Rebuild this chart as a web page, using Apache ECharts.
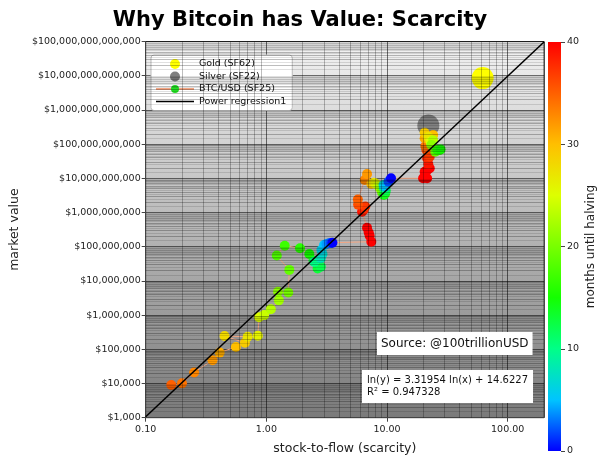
<!DOCTYPE html>
<html>
<head>
<meta charset="utf-8">
<title>Why Bitcoin has Value: Scarcity</title>
<script src="https://cdn.jsdelivr.net/npm/echarts@6/dist/echarts.min.js"></script>
<style>
  html, body { margin: 0; padding: 0; background: #fff; }
  #chart { width: 600px; height: 464px; }
</style>
</head>
<body>
<div id="chart"></div>
<script>
// BTC/USD monthly points, in time order: stock-to-flow, market value (USD), months until halving
var btcS2F = [0.163, 0.2, 0.252, 0.358, 0.41, 0.56, 0.665, 0.45, 0.70, 0.85,
  0.87, 0.96, 1.09, 1.27, 1.25, 1.52, 1.55, 1.22, 1.42, 1.90,
  2.27, 2.46, 2.66, 2.83, 2.50, 2.83, 2.92, 2.86, 3.01, 3.15,
  3.31, 3.43, 3.53,
  7.41, 7.18, 7.05, 6.83, 6.21, 6.42, 6.61, 5.76, 5.73, 6.54,
  6.83, 7.41, 7.75, 7.99, 8.52, 8.73, 9.07, 9.32, 9.65, 9.47,
  9.77, 9.41, 9.36, 9.65, 10.3, 10.8,
  19.9, 21.5, 20.5, 20.5, 22.6, 21.6, 22.0, 21.5, 22.6, 21.2,
  20.8, 20.5, 24.1, 20.5, 22.0, 22.9, 24.1, 23.3, 25.1, 27.3,
  26.1, 27.8];
var btcValue = [9000, 10100, 21000, 48000, 80000, 117000, 156000, 245000, 233000, 250000,
  863000, 1.0e6, 1.48e6, 2.7e6, 4.8e6, 4.6e6, 2.1e7, 5.5e7, 1.07e8, 9.0e7,
  6.1e7, 3.9e7, 2.3e7, 2.6e7, 3.6e7, 4.6e7, 6.1e7, 8.0e7, 1.12e8, 1.2e8,
  1.26e8, 1.28e8, 1.31e8,
  1.4e8, 2.1e8, 2.6e8, 3.6e8, 1.05e9, 1.2e9, 1.5e9, 1.7e9, 2.4e9, 8.9e9,
  1.34e10, 6.8e9, 7.4e9, 7.1e9, 6.0e9, 5.2e9, 4.0e9, 3.3e9, 3.6e9, 3.3e9,
  4.3e9, 5.2e9, 6.4e9, 5.7e9, 8.0e9, 1.0e10,
  1.0e10, 1.0e10, 1.1e10, 1.56e10, 1.96e10, 1.75e10, 2.6e10, 3.85e10, 4.3e10, 6.7e10,
  8.8e10, 1.48e11, 1.85e11, 2.15e11, 1.6e11, 1.17e11, 1.3e11, 9.4e10, 6.0e10, 6.7e10,
  6.7e10, 7.0e10];
var btcMonths = [35, 34, 33, 32, 31, 30, 29, 28, 27, 26,
  25, 24, 23, 22, 21, 20, 19, 18, 17, 16,
  15, 14, 13, 12, 10, 8, 7, 6, 5, 4,
  3, 2, 0,
  40, 40, 40, 40, 39, 38, 37, 36, 35, 33,
  32, 30, 28, 26, 24, 22, 20, 18, 16, 14,
  12, 10, 7, 5, 2, 0,
  40, 40, 40, 40, 40, 40, 39, 38, 37, 36,
  34, 31, 30, 29, 27, 25, 23, 21, 19, 17,
  16, 15];

var goldPoint = [62, 8.5e12];
var silverPoint = [22, 3.5e11];

// power regression ln(y) = 3.31954 ln(x) + 14.6227, ends read at the plot edges
var regX = [0.1, 200];
var regY = [1070, 9.7e13];

var monthRange = [0, 40];
var jetColors = ['#0000ff', '#00c4ff', '#00ff87', '#14ff00', '#78ff00',
  '#ddff00', '#ffbf00', '#ff6000', '#ff0000'];

var font = 'DejaVu Sans';

var btcLine = btcS2F.map(function(x, i) { return [x, btcValue[i]]; });
var btcPts = btcS2F.map(function(x, i) { return [x, btcValue[i], btcMonths[i]]; });
var regLine = regX.map(function(x, i) { return [x, regY[i]]; });

// minor log grid lines (2..9 per decade), plus fainter half steps on y
var gridLines = [];
for (var e = -1; e < 3; e++) {
  for (var m = 2; m < 10; m++) {
    var v = m * Math.pow(10, e);
    if (v < 200) gridLines.push({ xAxis: v });
  }
}
for (var e2 = 3; e2 < 14; e2++) {
  for (var k = 1.5; k < 10; k += 0.5) {
    gridLines.push({
      yAxis: k * Math.pow(10, e2),
      lineStyle: { color: k % 1 === 0 ? 'rgba(0,0,0,0.26)' : 'rgba(0,0,0,0.12)' }
    });
  }
}

var barGradient = new echarts.graphic.LinearGradient(0, 1, 0, 0,
  jetColors.map(function(c, i) { return { offset: i / (jetColors.length - 1), color: c }; }));

var chart = echarts.init(document.getElementById('chart'));

var option = {
  animation: false,
  textStyle: { fontFamily: font },
  title: [{
    text: 'Why Bitcoin has Value: Scarcity',
    left: 'center',
    top: 5,
    textStyle: { fontFamily: font, fontWeight: 'bold', fontSize: 21, color: '#000' }
  }, {
    text: 'Source: @100trillionUSD',
    left: 377,
    top: 332,
    padding: [6, 4, 5, 4],
    backgroundColor: '#fff',
    textStyle: { fontFamily: font, fontWeight: 'normal', fontSize: 12, color: '#111' }
  }, {
    text: 'ln(y) = 3.31954 ln(x) + 14.6227\nR² = 0.947328',
    left: 362,
    top: 370,
    padding: [4, 5, 4, 5],
    backgroundColor: '#fff',
    textStyle: { fontFamily: font, fontWeight: 'normal', fontSize: 10, lineHeight: 12.5, color: '#111' }
  }],
  legend: {
    orient: 'vertical',
    left: 151,
    top: 55,
    padding: [4, 6, 4, 4],
    itemGap: 2.5,
    itemWidth: 38,
    itemHeight: 10,
    backgroundColor: '#fff',
    borderColor: '#bbb',
    borderWidth: 1,
    borderRadius: 3,
    textStyle: { fontFamily: font, fontSize: 9.5, color: '#111' },
    data: [
      { name: 'Gold (SF62)', icon: 'circle' },
      { name: 'Silver (SF22)', icon: 'circle' },
      { name: 'BTC/USD (SF25)' },
      { name: 'Power regression1', icon: 'path://M0,0L38,0L38,1.6L0,1.6Z' }
    ]
  },
  visualMap: {
    type: 'continuous',
    show: false,
    min: monthRange[0],
    max: monthRange[1],
    dimension: 2,
    seriesIndex: 4,
    inRange: { color: jetColors }
  },
  grid: [{
    left: 141.5,
    top: 41.5,
    width: 402.5,
    height: 376.2,
    show: true,
    borderColor: '#444',
    borderWidth: 1,
    backgroundColor: new echarts.graphic.LinearGradient(0, 0, 0, 1, [
      { offset: 0, color: '#f3f3f3' },
      { offset: 1, color: '#7a7a7a' }
    ])
  }, {
    left: 548,
    top: 42,
    width: 13,
    height: 409
  }],
  xAxis: [{
    type: 'log',
    logBase: 10,
    gridIndex: 0,
    min: 0.1,
    max: 200,
    interval: 1,
    name: 'stock-to-flow (scarcity)',
    nameLocation: 'middle',
    nameGap: 25,
    nameTextStyle: { fontFamily: font, fontSize: 12.5, color: '#222' },
    axisLine: { show: true, lineStyle: { color: '#444' } },
    axisTick: { show: true, length: 4, lineStyle: { color: '#444' } },
    axisLabel: {
      fontSize: 9.5, color: '#222', margin: 7, showMaxLabel: false,
      formatter: function(v) { return v.toFixed(2); }
    },
    splitLine: { show: true, lineStyle: { color: 'rgba(0,0,0,0.55)' } }
  }, {
    type: 'category',
    gridIndex: 1,
    data: ['months'],
    show: false
  }],
  yAxis: [{
    type: 'log',
    logBase: 10,
    gridIndex: 0,
    min: 1000,
    max: 1e14,
    interval: 1,
    name: 'market value',
    nameLocation: 'middle',
    nameRotate: 90,
    nameGap: 122,
    nameTextStyle: { fontFamily: font, fontSize: 12.5, color: '#222' },
    axisLine: { show: true, lineStyle: { color: '#444' } },
    axisTick: { show: true, length: 4, lineStyle: { color: '#444' } },
    axisLabel: {
      fontSize: 9.5, color: '#222', margin: 5,
      formatter: function(v) { return '$' + Math.round(v).toLocaleString('en-US'); }
    },
    splitLine: { show: true, lineStyle: { color: 'rgba(0,0,0,0.55)' } }
  }, {
    type: 'value',
    gridIndex: 1,
    position: 'right',
    min: monthRange[0],
    max: monthRange[1],
    interval: 10,
    name: 'months until halving',
    nameLocation: 'middle',
    nameRotate: 90,
    nameGap: 24,
    nameTextStyle: { fontFamily: font, fontSize: 12, color: '#222' },
    axisLine: { show: false },
    axisTick: { show: true, length: 4, lineStyle: { color: '#444' } },
    axisLabel: { fontSize: 9.5, color: '#222', margin: 6 },
    splitLine: { show: false }
  }],
  series: [{
    name: 'grid',
    type: 'scatter',
    data: [],
    silent: true,
    z: 1,
    markLine: {
      silent: true,
      symbol: ['none', 'none'],
      label: { show: false },
      lineStyle: { color: 'rgba(0,0,0,0.26)', width: 1, type: 'solid' },
      emphasis: { disabled: true },
      data: gridLines
    }
  }, {
    name: 'Gold (SF62)',
    type: 'scatter',
    data: [goldPoint],
    symbolSize: 22,
    itemStyle: { color: '#ffff00', opacity: 1 },
    z: 3
  }, {
    name: 'Silver (SF22)',
    type: 'scatter',
    data: [silverPoint],
    symbolSize: 22,
    itemStyle: { color: '#808080', opacity: 1 },
    z: 3
  }, {
    name: 'BTC/USD (SF25)',
    type: 'line',
    data: btcLine,
    symbol: 'circle',
    symbolSize: 3,
    showSymbol: true,
    itemStyle: { color: '#22dd22' },
    lineStyle: { color: '#f4a582', width: 1 },
    z: 3
  }, {
    name: 'btc months',
    type: 'scatter',
    data: btcPts,
    symbolSize: 10,
    itemStyle: { opacity: 1 },
    z: 4
  }, {
    name: 'Power regression1',
    type: 'line',
    data: regLine,
    symbol: 'none',
    lineStyle: { color: '#000', width: 1.5 },
    itemStyle: { color: '#000' },
    z: 6
  }, {
    name: 'colorbar',
    type: 'bar',
    xAxisIndex: 1,
    yAxisIndex: 1,
    data: [monthRange[1]],
    barWidth: '100%',
    silent: true,
    itemStyle: { color: barGradient }
  }]
};

chart.setOption(option);
</script>
</body>
</html>
